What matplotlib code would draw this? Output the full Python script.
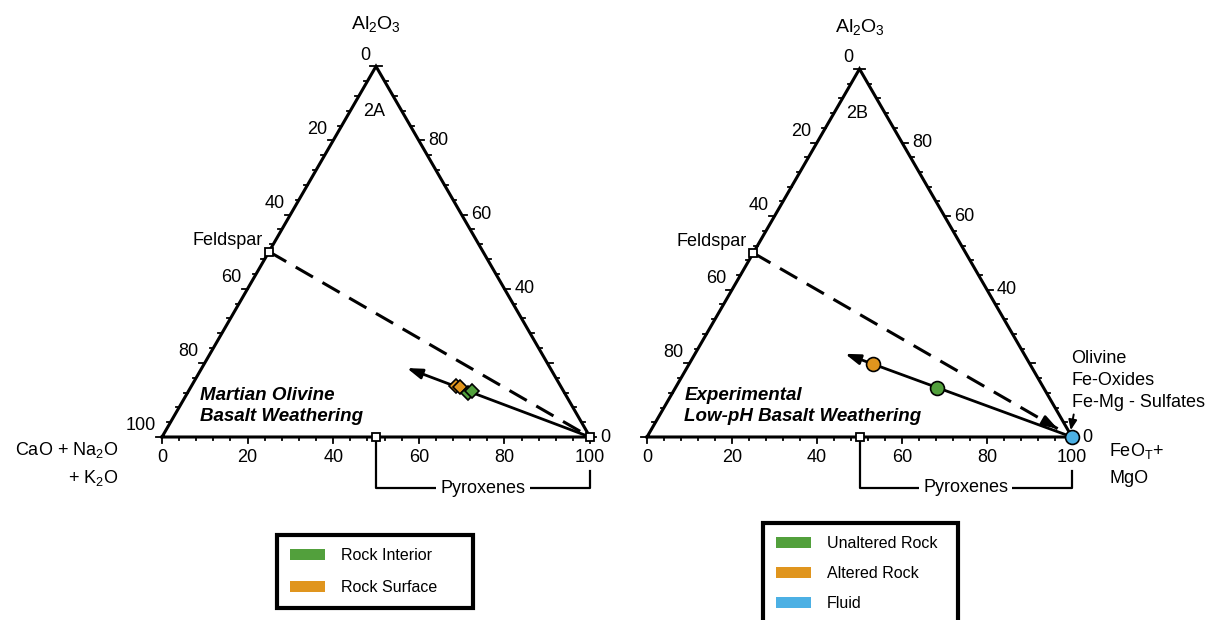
import numpy as np
import matplotlib
matplotlib.use('Agg')
import matplotlib.pyplot as plt
from matplotlib.patches import Patch

plt.rcParams['font.family'] = ['Liberation Sans', 'DejaVu Sans']
plt.rcParams['mathtext.fontset'] = 'custom'
plt.rcParams['mathtext.rm'] = 'Liberation Sans'
plt.rcParams['mathtext.it'] = 'Liberation Sans:italic'
plt.rcParams['mathtext.bf'] = 'Liberation Sans:bold'

# compositions in % : (CaO+Na2O+K2O, Al2O3, FeOT+MgO)
feldspar = (50, 50, 0)
pyroxenes = (50, 0, 50)
mafic_corner = (0, 0, 100)

# 2A - Martian olivine basalt
mars_interior_cao = [22.6, 21.4]
mars_interior_al = [11.9, 12.4]
mars_interior_fe = [65.5, 66.2]
mars_surface_cao = [24.4, 23.6]
mars_surface_al = [13.8, 13.5]
mars_surface_fe = [61.8, 62.9]
mars_trend_end = (33.5, 18.6, 47.9)

# 2B - experimental low-pH weathering
exp_unaltered = (25.1, 13.3, 61.6)
exp_altered = (36.9, 19.8, 43.3)
exp_fluid = (0, 0, 100)
exp_trend_end = (42.1, 22.6, 35.3)

ticks = np.arange(0, 101, 4)
major = [0, 20, 40, 60, 80, 100]

green = '#52a03c'
orange = '#e0951e'
blue = '#4cb0e4'

FS = 13


def tern(cao, al, fe):
    cao, al, fe = np.asarray(cao, float), np.asarray(al, float), np.asarray(fe, float)
    tot = cao + al + fe
    return 100 * (fe + al / 2) / tot, 100 * al * np.sqrt(3) / 2 / tot


def frame(ax, tag, left_labels, right_labels, title):
    h = np.sqrt(3) / 2
    ax.plot([0, 100, 50, 0], [0, 0, 100 * h, 0], color='black', lw=2.2,
            solid_joinstyle='miter', zorder=3)
    for t in ticks:
        ln = 1.3 if t % 20 == 0 else 0.8
        # bottom (FeO + MgO)
        ax.plot([t, t], [0, -ln], color='black', lw=1.3, zorder=3)
        # left edge (CaO), point where CaO = t
        x, y = tern(t, 100 - t, 0)
        ax.plot([x, x - ln], [y, y], color='black', lw=1.3, zorder=3)
        # right edge (Al2O3)
        x, y = tern(0, t, 100 - t)
        ax.plot([x, x + ln], [y, y], color='black', lw=1.3, zorder=3)
    for t in major:
        ax.text(t, -2.8, str(t), ha='center', va='top', fontsize=FS)
    for t in left_labels:
        x, y = tern(t, 100 - t, 0)
        ax.text(x - 1.4, y + 0.6, str(t), ha='right', va='bottom', fontsize=FS)
    for t in right_labels:
        x, y = tern(0, t, 100 - t)
        ax.text(x + 2.3, y, str(t), ha='left', va='center', fontsize=FS)
    ax.text(50, 96.5, r'Al$_2$O$_3$', ha='center', va='center', fontsize=14)
    ax.text(49.5, 76, tag, ha='center', va='center', fontsize=FS)

    # feldspar / pyroxene end-members
    fx, fy = tern(*feldspar)
    ax.text(fx - 1.5, fy + 0.6, 'Feldspar', ha='right', va='bottom', fontsize=FS)
    px, py = tern(*pyroxenes)
    mx, my = tern(*mafic_corner)
    ax.plot([px, px, mx, mx], [py, -12, -12, -8], color='black', lw=1.6, zorder=2)
    ax.text((px + mx) / 2, -12, 'Pyroxenes', ha='center', va='center', fontsize=FS,
            bbox=dict(facecolor='white', edgecolor='none', pad=3), zorder=3)
    ax.plot([fx, px], [fy, py], ls='none', marker='s', ms=6, mfc='white',
            mec='black', mew=1.3, zorder=6)
    ax.text(8.8, 7.3, title, ha='left', va='center', fontsize=13.5,
            fontweight='bold', style='italic', linespacing=1.3)
    ax.set_aspect('equal')
    ax.axis('off')


def legend(ax, handles, x0, y0, width, spacing):
    W, H = 1218, 620
    leg = ax.legend(handles=handles, loc='upper left', mode='expand',
                    bbox_to_anchor=(x0 / W, 1 - y0 / H - 0.01, width / W, 0.01),
                    bbox_transform=plt.gcf().transFigure, fontsize=11.5,
                    fancybox=False, edgecolor='black', framealpha=1,
                    handlelength=2.2, handleheight=0.7, handletextpad=1.0,
                    borderpad=0.8, labelspacing=spacing, borderaxespad=0)
    leg.get_frame().set_linewidth(3)
    return leg


fig = plt.figure(figsize=(12.18, 6.2), dpi=100)

# left panel: triangle from px 162..590, baseline at py 437
s = 4.28
ax1 = fig.add_axes([0, 0, 0.5, 1])
ax1.set_xlim((0 - 162) / s, (609 - 162) / s)
ax1.set_ylim((437 - 620) / s, 437 / s)
frame(ax1, '2A', [0, 20, 40, 60, 80, 100], [80, 60, 40, 0],
      'Martian Olivine\nBasalt Weathering')

fx, fy = tern(*feldspar)
mx, my = tern(*mafic_corner)
ax1.plot([fx, mx], [fy, my], color='black', lw=2.2, dashes=(6.5, 3.6), zorder=2)
ax1.plot([mx], [my], marker='s', ms=6, mfc='white', mec='black', mew=1.3, zorder=6)
ex, ey = tern(*mars_trend_end)
ax1.annotate('', xy=(ex, ey), xytext=(mx, my), zorder=4,
             arrowprops=dict(arrowstyle='-|>,head_length=0.9,head_width=0.3',
                             color='black', lw=2, shrinkA=0, shrinkB=0))
x, y = tern(mars_surface_cao, mars_surface_al, mars_surface_fe)
ax1.plot(x, y, ls='none', marker='D', ms=7.5, mfc=orange, mec='black', mew=1.2, zorder=5)
x, y = tern(mars_interior_cao, mars_interior_al, mars_interior_fe)
ax1.plot(x, y, ls='none', marker='D', ms=7.5, mfc=green, mec='black', mew=1.2, zorder=5)

ax1.text(-10.3, -6.3, 'CaO + Na$_2$O\n+ K$_2$O', ha='right', va='center',
         fontsize=FS, multialignment='right', linespacing=1.55)

legend(ax1, [Patch(facecolor=green, label='Rock Interior'),
             Patch(facecolor=orange, label='Rock Surface')], 277, 535, 196, 1.1)

# right panel: triangle from px 647..1072
s = 4.25
ax2 = fig.add_axes([0.5, 0, 0.5, 1])
ax2.set_xlim((609 - 647) / s, (1218 - 647) / s)
ax2.set_ylim((437 - 620) / s, 437 / s)
frame(ax2, '2B', [0, 20, 40, 60, 80], [80, 60, 40, 0],
      'Experimental\nLow-pH Basalt Weathering')

fx, fy = tern(*feldspar)
mx, my = tern(*mafic_corner)
dx, dy = fx + 0.955 * (mx - fx), fy + 0.955 * (my - fy)
ax2.plot([fx, dx], [fy, dy], color='black', lw=2.2, dashes=(6.5, 3.6), zorder=2)
ax2.annotate('', xy=(dx, dy), xytext=(fx + 0.93 * (mx - fx), fy + 0.93 * (my - fy)),
             arrowprops=dict(arrowstyle='-|>,head_length=0.9,head_width=0.3',
                             color='black', lw=2, shrinkA=0, shrinkB=0))
ex, ey = tern(*exp_trend_end)
bx, by = tern(*exp_fluid)
ax2.annotate('', xy=(ex, ey), xytext=(bx, by), zorder=4,
             arrowprops=dict(arrowstyle='-|>,head_length=0.9,head_width=0.3',
                             color='black', lw=2, shrinkA=0, shrinkB=0))
for comp, col in [(exp_unaltered, green), (exp_altered, orange), (exp_fluid, blue)]:
    x, y = tern(*comp)
    ax2.plot([x], [y], marker='o', ms=10, mfc=col, mec='black', mew=1.2, zorder=6)
ax2.annotate('', xy=(bx - 0.3, by + 1.6), xytext=(bx + 0.4, by + 5.3),
             arrowprops=dict(arrowstyle='-|>,head_length=0.6,head_width=0.25',
                             color='black', lw=1.4, shrinkA=0, shrinkB=0))
ax2.text(bx - 0.1, by + 13.3, 'Olivine\nFe-Oxides\nFe-Mg - Sulfates', ha='left',
         va='center', fontsize=FS, linespacing=1.4)
ax2.text(bx + 8.8, by - 6.4, 'FeO$_\\mathregular{T}$+\nMgO', ha='left', va='center',
         fontsize=FS, linespacing=1.65)

legend(ax2, [Patch(facecolor=green, label='Unaltered Rock'),
             Patch(facecolor=orange, label='Altered Rock'),
             Patch(facecolor=blue, label='Fluid')], 763, 523, 195, 0.95)

fig.savefig('out.png', dpi=100)
